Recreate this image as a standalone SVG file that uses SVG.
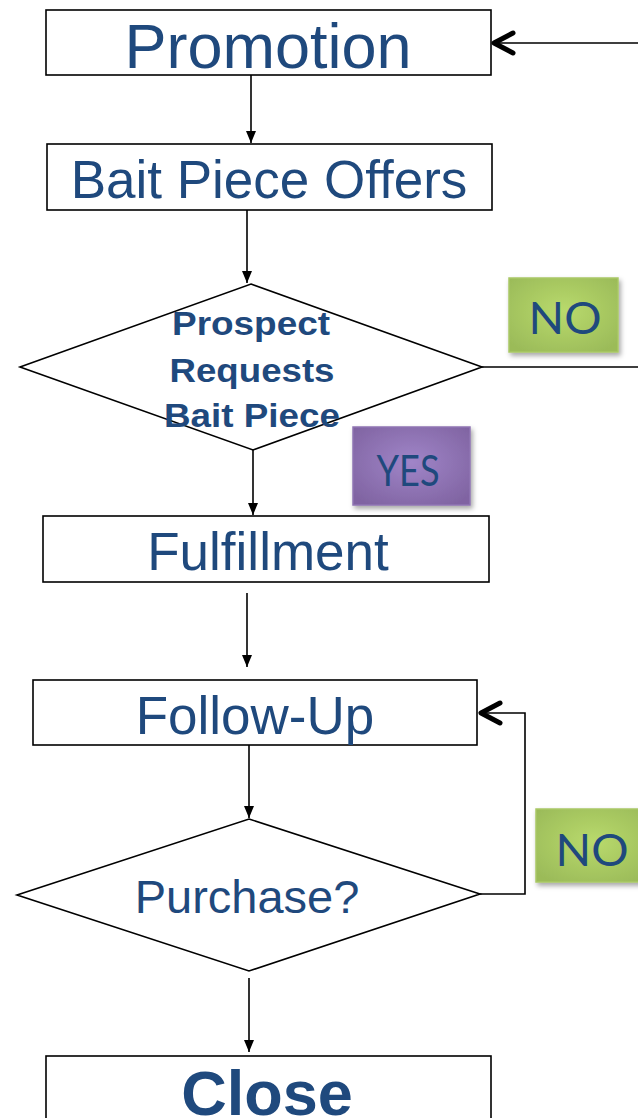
<svg xmlns="http://www.w3.org/2000/svg" width="638" height="1118" viewBox="0 0 638 1118">
  <defs>
    <marker id="tri" viewBox="0 0 12 10" refX="12" refY="5" markerWidth="12" markerHeight="10" markerUnits="userSpaceOnUse" orient="auto">
      <path d="M0,0 L12,5 L0,10 Z" fill="#000"/>
    </marker>
    <radialGradient id="gGreen" cx="50%" cy="45%" r="65%">
      <stop offset="0" stop-color="#b9da6c"/>
      <stop offset="1" stop-color="#9bbb59"/>
    </radialGradient>
    <radialGradient id="gPurple" cx="50%" cy="45%" r="65%">
      <stop offset="0" stop-color="#a085c8"/>
      <stop offset="1" stop-color="#8064a2"/>
    </radialGradient>
    <filter id="shadow" x="-20%" y="-20%" width="150%" height="150%">
      <feDropShadow dx="2" dy="3" stdDeviation="2.5" flood-color="#000" flood-opacity="0.35"/>
    </filter>
  </defs>
  <style>
    .box { fill: #fff; stroke: #000; stroke-width: 1.6; }
    .label { font-family: "Liberation Sans", Arial, sans-serif; fill: #1f497d; text-anchor: middle; }
    .bold { font-weight: bold; }
    .tag { font-family: Lato, "Open Sans", sans-serif; fill: #1f497d; text-anchor: middle; }
    .edge { fill: none; stroke: #000; stroke-width: 1.6; }
    .chev { fill: none; stroke: #000; stroke-width: 5; stroke-linecap: round; stroke-linejoin: round; }
  </style>
  <rect width="638" height="1118" fill="#fff"/>

  <g id="connectors">
    <line class="edge" x1="251" y1="75" x2="251" y2="143" marker-end="url(#tri)"/>
    <line class="edge" x1="247" y1="210" x2="247" y2="283" marker-end="url(#tri)"/>
    <line class="edge" x1="253" y1="443" x2="253" y2="515" marker-end="url(#tri)"/>
    <line class="edge" x1="247" y1="593" x2="247" y2="667" marker-end="url(#tri)"/>
    <line class="edge" x1="249" y1="745" x2="249" y2="818" marker-end="url(#tri)"/>
    <line class="edge" x1="249" y1="978" x2="249" y2="1052" marker-end="url(#tri)"/>
    <!-- NO branch back to Promotion -->
    <polyline class="edge" points="482,367 660,367 660,43 493,43"/>
    <polyline class="chev" points="513,33 494,43 513,53"/>
    <!-- NO branch back to Follow-Up -->
    <polyline class="edge" points="480,894 525,894 525,713 479,713"/>
    <polyline class="chev" points="500,703 481,713 500,723"/>
  </g>

  <g id="promotion">
    <rect class="box" x="46" y="10" width="445" height="65"/>
    <text class="label" x="268" y="68" font-size="63">Promotion</text>
  </g>

  <g id="bait-piece-offers">
    <rect class="box" x="47" y="144" width="445" height="66"/>
    <text class="label" x="269" y="198" font-size="53">Bait Piece Offers</text>
  </g>

  <g id="prospect-requests">
    <polygon class="box" points="251,284 482,367 253,450 20,367"/>
    <text class="label bold" x="251" y="335" font-size="33" textLength="158" lengthAdjust="spacingAndGlyphs">Prospect</text>
    <text class="label bold" x="252" y="382" font-size="33" textLength="165" lengthAdjust="spacingAndGlyphs">Requests</text>
    <text class="label bold" x="252" y="427" font-size="33" textLength="176" lengthAdjust="spacingAndGlyphs">Bait Piece</text>
  </g>

  <g id="tag-no-1">
    <rect x="509" y="278" width="109" height="74" fill="url(#gGreen)" stroke="#a9c865" stroke-width="1.5" filter="url(#shadow)"/>
    <text class="tag" x="565" y="334" font-size="44" textLength="73" lengthAdjust="spacingAndGlyphs">NO</text>
  </g>

  <g id="tag-yes">
    <rect x="353" y="427" width="117" height="78" fill="url(#gPurple)" stroke="#8f74b3" stroke-width="1.5" filter="url(#shadow)"/>
    <text class="tag" x="408" y="486" font-size="42" textLength="63" lengthAdjust="spacingAndGlyphs">YES</text>
  </g>

  <g id="fulfillment">
    <rect class="box" x="43" y="516" width="446" height="66"/>
    <text class="label" x="268" y="570" font-size="53">Fulfillment</text>
  </g>

  <g id="follow-up">
    <rect class="box" x="33" y="680" width="444" height="65"/>
    <text class="label" x="255" y="734" font-size="53">Follow-Up</text>
  </g>

  <g id="purchase">
    <polygon class="box" points="249,819 480,894 249,971 17,895"/>
    <text class="label" x="247" y="913" font-size="47">Purchase?</text>
  </g>

  <g id="tag-no-2">
    <rect x="536" y="809" width="115" height="73" fill="url(#gGreen)" stroke="#a9c865" stroke-width="1.5" filter="url(#shadow)"/>
    <text class="tag" x="592" y="866" font-size="44" textLength="73" lengthAdjust="spacingAndGlyphs">NO</text>
  </g>

  <g id="close">
    <rect class="box" x="46" y="1056" width="445" height="80"/>
    <text class="label bold" x="267" y="1115" font-size="63">Close</text>
  </g>
</svg>
